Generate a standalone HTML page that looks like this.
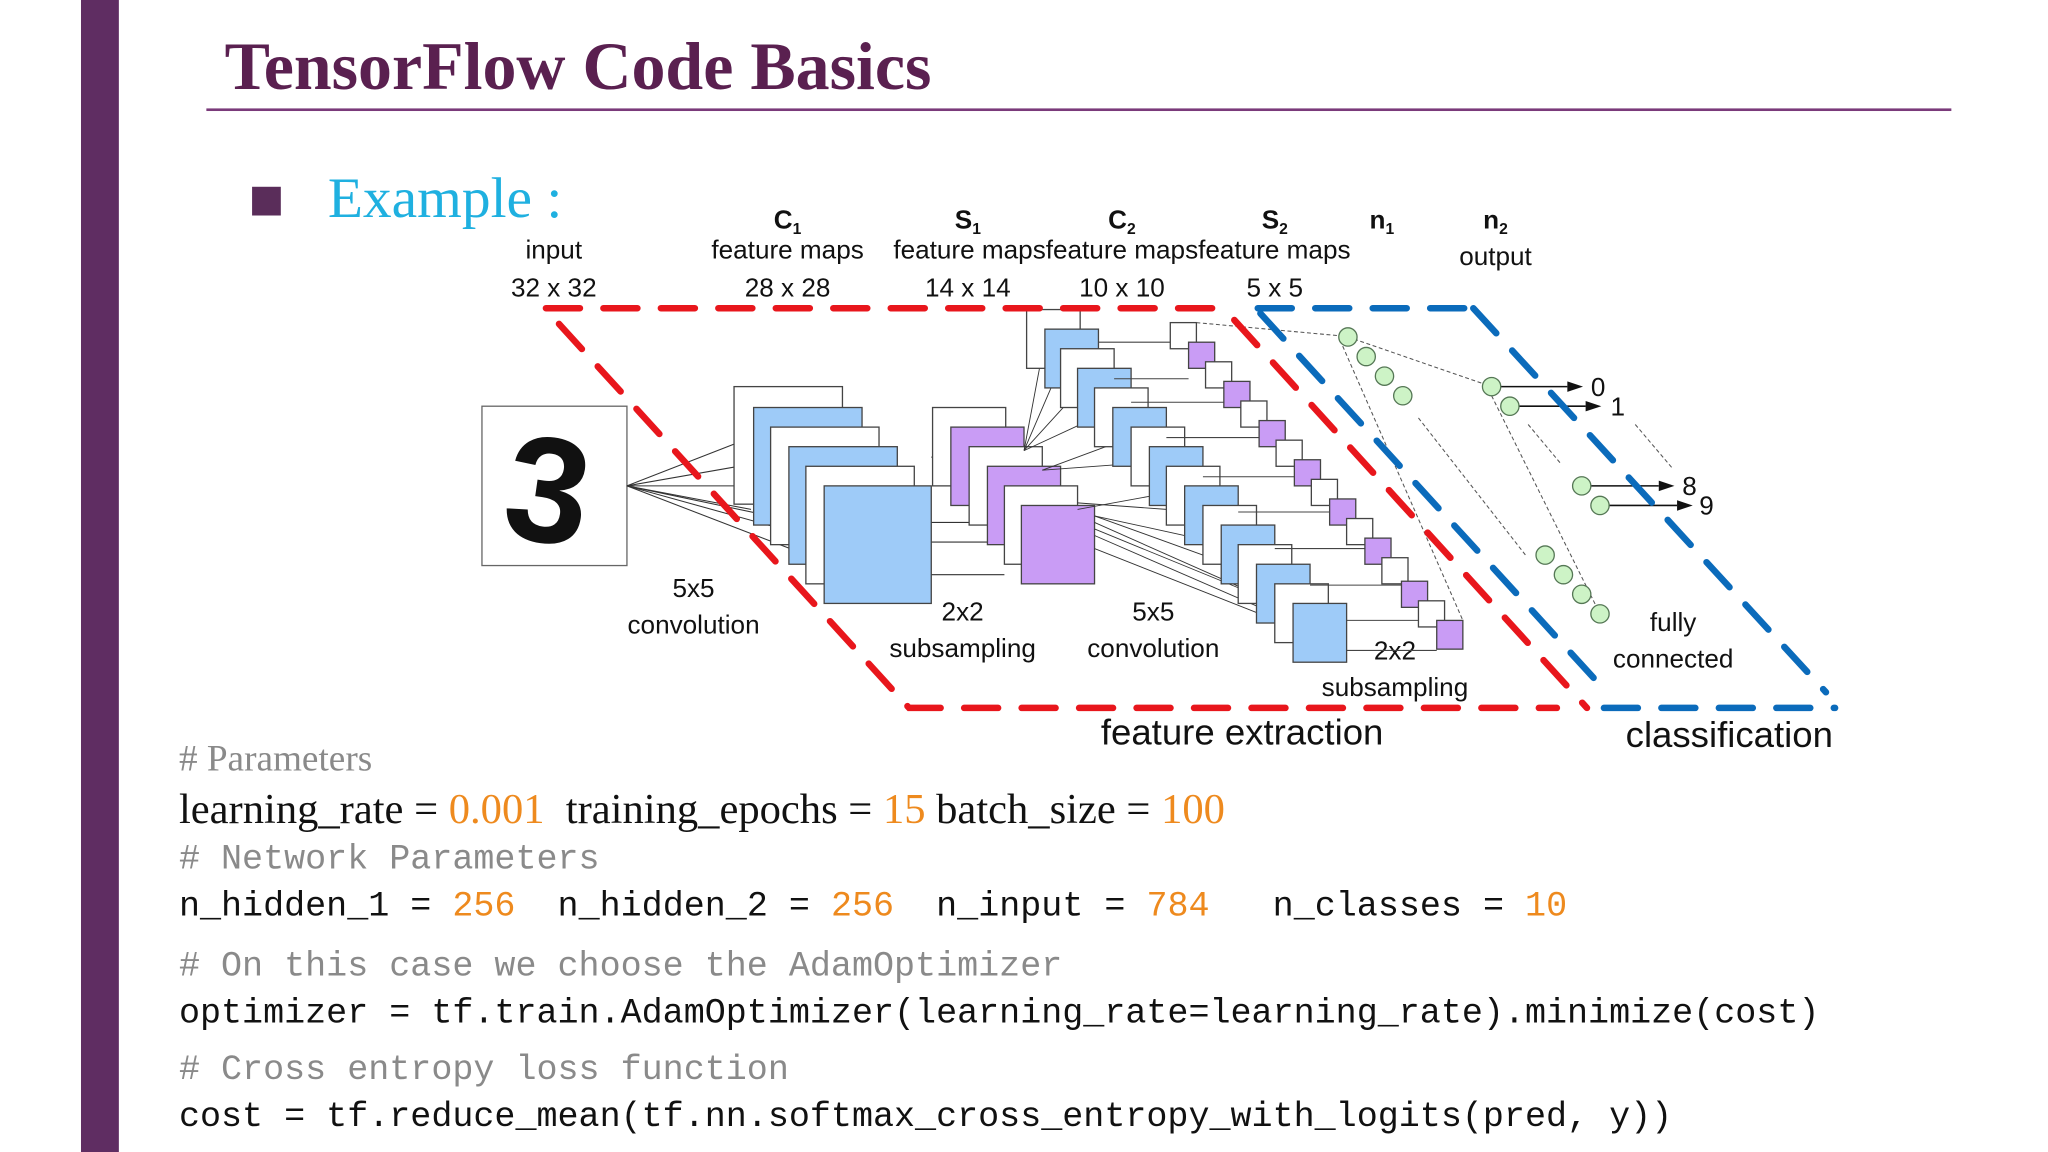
<!DOCTYPE html>
<html><head><meta charset="utf-8"><style>
html,body{margin:0;padding:0;background:#fff;}
svg{display:block;}
.d{font-family:"Liberation Sans",sans-serif;font-size:20px;fill:#111;}
.m{font-family:"Liberation Mono",monospace;font-size:26.85px;white-space:pre;}
.s{font-family:"Liberation Serif",serif;white-space:pre;}
</style></head><body>
<svg width="2048" height="1152" viewBox="0 0 1568 882" preserveAspectRatio="none" xmlns="http://www.w3.org/2000/svg">
<rect x="0" y="0" width="1568" height="882" fill="#fff"/>
<rect x="62" y="0" width="29" height="882" fill="#5f2d62"/>
<text x="172" y="68" class="s" font-size="52" font-weight="bold" fill="#5a2050">TensorFlow Code Basics</text>
<rect x="158" y="83" width="1336" height="2" fill="#7a3a7a"/>
<rect x="193" y="143" width="22" height="22" fill="#5a2d5a"/>
<text x="251" y="166" class="s" font-size="44" fill="#1fb0e0">Example :</text>

<g class="d" text-anchor="middle">
<text x="424" y="198">input</text><text x="424" y="227">32 x 32</text>
<text x="603" y="175" font-weight="bold">C<tspan font-size="12" dy="4">1</tspan></text>
<text x="603" y="198">feature maps</text><text x="603" y="227">28 x 28</text>
<text x="741" y="175" font-weight="bold">S<tspan font-size="12" dy="4">1</tspan></text>
<text x="859" y="175" font-weight="bold">C<tspan font-size="12" dy="4">2</tspan></text>
<text x="976" y="175" font-weight="bold">S<tspan font-size="12" dy="4">2</tspan></text>
<text x="1058" y="175" font-weight="bold">n<tspan font-size="12" dy="4">1</tspan></text>
<text x="1145" y="175" font-weight="bold">n<tspan font-size="12" dy="4">2</tspan></text>
<text x="859" y="198">feature mapsfeature mapsfeature maps</text>
<text x="1145" y="203">output</text>
<text x="741" y="227">14 x 14</text><text x="859" y="227">10 x 10</text><text x="976" y="227">5 x 5</text>
<text x="531" y="457">5x5</text><text x="531" y="485">convolution</text>
<text x="737" y="475">2x2</text><text x="737" y="503">subsampling</text>
<text x="883" y="475">5x5</text><text x="883" y="503">convolution</text>
<text x="1068" y="505">2x2</text><text x="1068" y="533">subsampling</text>
<text x="1281" y="483">fully</text><text x="1281" y="511">connected</text>
<text x="951" y="570" font-size="28">feature extraction</text>
<text x="1324" y="572" font-size="28">classification</text>
</g>

<rect x="369" y="311" width="111" height="122" fill="#fff" stroke="#666"/>
<text x="420" y="415" text-anchor="middle" font-family="Liberation Sans,sans-serif" font-size="115" font-weight="bold" fill="#111" transform="rotate(8 420 372)">3</text>

<g stroke="#333" stroke-width="0.8">
<line x1="480" y1="372" x2="562" y2="340"/><line x1="480" y1="372" x2="577" y2="355"/>
<line x1="480" y1="372" x2="590" y2="372"/><line x1="480" y1="372" x2="604" y2="398"/>
<line x1="480" y1="372" x2="617" y2="410"/><line x1="480" y1="372" x2="631" y2="430"/>
<line x1="480" y1="372" x2="575" y2="390"/>
<line x1="713" y1="350" x2="728" y2="350"/><line x1="713" y1="400" x2="742" y2="400"/>
<line x1="713" y1="415" x2="756" y2="415"/><line x1="713" y1="440" x2="769" y2="440"/>
</g>

<g stroke="#444" stroke-width="1">
<rect x="562" y="296" width="83" height="90" fill="#fff"/>
<rect x="577" y="312" width="83" height="90" fill="#9ecbf8"/>
<rect x="590" y="327" width="83" height="90" fill="#fff"/>
<rect x="604" y="342" width="83" height="90" fill="#9ecbf8"/>
<rect x="617" y="357" width="83" height="90" fill="#fff"/>
<rect x="631" y="372" width="82" height="90" fill="#9ecbf8"/>
</g>
<g stroke="#444" stroke-width="1">
<rect x="714" y="312" width="56" height="60" fill="#fff"/>
<rect x="728" y="327" width="56" height="60" fill="#c99cf5"/>
<rect x="742" y="342" width="56" height="60" fill="#fff"/>
<rect x="756" y="357" width="56" height="60" fill="#c99cf5"/>
<rect x="769" y="372" width="56" height="60" fill="#fff"/>
<rect x="782" y="387" width="56" height="60" fill="#c99cf5"/>
</g>
<g stroke="#333" stroke-width="0.7">
<line x1="784" y1="345" x2="800" y2="260"/><line x1="784" y1="345" x2="812" y2="280"/>
<line x1="784" y1="345" x2="825" y2="300"/><line x1="784" y1="345" x2="838" y2="320"/>
<line x1="798" y1="360" x2="852" y2="340"/><line x1="798" y1="360" x2="866" y2="355"/>
<line x1="825" y1="390" x2="880" y2="380"/><line x1="838" y1="395" x2="907" y2="410"/>
<line x1="838" y1="395" x2="935" y2="430"/><line x1="838" y1="400" x2="962" y2="455"/>
<line x1="838" y1="410" x2="976" y2="470"/><line x1="838" y1="420" x2="990" y2="480"/>
<line x1="838" y1="405" x2="948" y2="450"/><line x1="825" y1="385" x2="893" y2="390"/>
</g>
<g stroke="#444" stroke-width="1">
<rect x="786" y="237" width="41" height="45" fill="#fff"/>
<rect x="800" y="252" width="41" height="45" fill="#9ecbf8"/>
<rect x="812" y="267" width="41" height="45" fill="#fff"/>
<rect x="825" y="282" width="41" height="45" fill="#9ecbf8"/>
<rect x="838" y="297" width="41" height="45" fill="#fff"/>
<rect x="852" y="312" width="41" height="45" fill="#9ecbf8"/>
<rect x="866" y="327" width="41" height="45" fill="#fff"/>
<rect x="880" y="342" width="41" height="45" fill="#9ecbf8"/>
<rect x="893" y="357" width="41" height="45" fill="#fff"/>
<rect x="907" y="372" width="41" height="45" fill="#9ecbf8"/>
<rect x="921" y="387" width="41" height="45" fill="#fff"/>
<rect x="935" y="402" width="41" height="45" fill="#9ecbf8"/>
<rect x="948" y="417" width="41" height="45" fill="#fff"/>
<rect x="962" y="432" width="41" height="45" fill="#9ecbf8"/>
<rect x="976" y="447" width="41" height="45" fill="#fff"/>
<rect x="990" y="462" width="41" height="45" fill="#9ecbf8"/>
</g>
<g stroke="#444" stroke-width="0.8">
<line x1="841" y1="262" x2="896" y2="262"/><line x1="853" y1="290" x2="910" y2="290"/>
<line x1="866" y1="308" x2="937" y2="308"/><line x1="893" y1="335" x2="964" y2="335"/>
<line x1="921" y1="365" x2="991" y2="365"/><line x1="948" y1="392" x2="1018" y2="392"/>
<line x1="976" y1="420" x2="1045" y2="420"/><line x1="1003" y1="448" x2="1073" y2="448"/>
<line x1="1031" y1="475" x2="1100" y2="475"/><line x1="1031" y1="498" x2="1100" y2="498"/>
</g>
<g stroke="#444" stroke-width="1">
<rect x="896" y="247" width="20" height="20" fill="#fff"/>
<rect x="910" y="262" width="20" height="20" fill="#c99cf5"/>
<rect x="923" y="277" width="20" height="20" fill="#fff"/>
<rect x="937" y="292" width="20" height="20" fill="#c99cf5"/>
<rect x="950" y="307" width="20" height="20" fill="#fff"/>
<rect x="964" y="322" width="20" height="20" fill="#c99cf5"/>
<rect x="977" y="337" width="20" height="20" fill="#fff"/>
<rect x="991" y="352" width="20" height="20" fill="#c99cf5"/>
<rect x="1004" y="367" width="20" height="20" fill="#fff"/>
<rect x="1018" y="382" width="20" height="20" fill="#c99cf5"/>
<rect x="1031" y="397" width="20" height="20" fill="#fff"/>
<rect x="1045" y="412" width="20" height="20" fill="#c99cf5"/>
<rect x="1058" y="427" width="20" height="20" fill="#fff"/>
<rect x="1073" y="445" width="20" height="20" fill="#c99cf5"/>
<rect x="1086" y="460" width="20" height="20" fill="#fff"/>
<rect x="1100" y="475" width="20" height="22" fill="#c99cf5"/>
</g>

<g stroke="#555" stroke-width="0.8" stroke-dasharray="3,2" fill="none">
<line x1="916" y1="247" x2="1025" y2="257"/>
<line x1="1032" y1="258" x2="1142" y2="296"/>
<line x1="1028" y1="265" x2="1120" y2="475"/>
<line x1="1086" y1="320" x2="1168" y2="425"/>
<line x1="1142" y1="303" x2="1225" y2="470"/>
<line x1="1170" y1="325" x2="1195" y2="355"/>
<line x1="1252" y1="325" x2="1280" y2="358"/>
</g>
<g stroke="#111" stroke-width="1.2">
<line x1="1149" y1="296" x2="1200" y2="296"/><line x1="1163" y1="311" x2="1214" y2="311"/>
<line x1="1218" y1="372" x2="1270" y2="372"/><line x1="1232" y1="387" x2="1284" y2="387"/>
</g>
<g fill="#111">
<polygon points="1200,292 1212,296 1200,300"/><polygon points="1214,307 1226,311 1214,315"/>
<polygon points="1270,368 1282,372 1270,376"/><polygon points="1284,383 1296,387 1284,391"/>
</g>
<g class="d">
<text x="1218" y="303">0</text><text x="1233" y="318">1</text>
<text x="1288" y="379">8</text><text x="1301" y="394">9</text>
</g>
<g fill="#cdf3c6" stroke="#557755" stroke-width="1">
<circle cx="1032" cy="258" r="7"/><circle cx="1046" cy="273" r="7"/><circle cx="1060" cy="288" r="7"/><circle cx="1074" cy="303" r="7"/>
<circle cx="1183" cy="425" r="7"/><circle cx="1197" cy="440" r="7"/><circle cx="1211" cy="455" r="7"/><circle cx="1225" cy="470" r="7"/>
<circle cx="1142" cy="296" r="7"/><circle cx="1156" cy="311" r="7"/><circle cx="1211" cy="372" r="7"/><circle cx="1225" cy="387" r="7"/>
</g>

<g fill="none" stroke-width="5" stroke-linecap="round" stroke-dasharray="26,18">
<path d="M418,236 L937,236" stroke="#e8161c"/>
<path d="M428,248 L696,542 L1192,542" stroke="#e8161c"/>
<path d="M945,245 L1215,542" stroke="#e8161c"/>
<path d="M963,236 L1128,236" stroke="#0b6bbb"/>
<path d="M965,240 L1232,532" stroke="#0b6bbb"/>
<path d="M1128,236 L1398,530" stroke="#0b6bbb"/>
<path d="M1228,542 L1405,542" stroke="#0b6bbb"/>
</g>

<text x="137" y="590" class="s" font-size="28.5" fill="#8a8a8a"># Parameters</text>
<text x="137" y="630" class="s" font-size="32.6" fill="#111">learning_rate = <tspan fill="#ee8a1e">0.001</tspan>  training_epochs = <tspan fill="#ee8a1e">15</tspan> batch_size = <tspan fill="#ee8a1e">100</tspan></text>
<text x="137" y="665" class="m" fill="#8a8a8a"># Network Parameters</text>
<text x="137" y="701" class="m" fill="#111">n_hidden_1 = <tspan fill="#ee8a1e">256</tspan>  n_hidden_2 = <tspan fill="#ee8a1e">256</tspan>  n_input = <tspan fill="#ee8a1e">784</tspan>   n_classes = <tspan fill="#ee8a1e">10</tspan></text>
<text x="137" y="747" class="m" fill="#8a8a8a"># On this case we choose the AdamOptimizer</text>
<text x="137" y="783" class="m" fill="#111">optimizer = tf.train.AdamOptimizer(learning_rate=learning_rate).minimize(cost)</text>
<text x="137" y="826" class="m" fill="#8a8a8a"># Cross entropy loss function</text>
<text x="137" y="862" class="m" fill="#111">cost = tf.reduce_mean(tf.nn.softmax_cross_entropy_with_logits(pred, y))</text>
</svg>
</body></html>
